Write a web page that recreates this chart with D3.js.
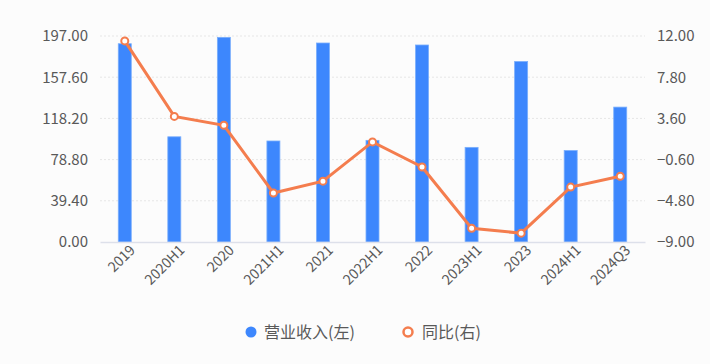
<!DOCTYPE html>
<html lang="zh">
<head>
<meta charset="UTF-8">
<script src="https://d3js.org/d3.v7.min.js"></script>
<style>
  body { margin: 0; background: #fcfcfc; font-family: "Noto Sans CJK SC", "Noto Sans", sans-serif; }
  svg { display: block; }
</style>
</head>
<body>
<div id="chart"></div>
<script>
// data
const periods = ["2019", "2020H1", "2020", "2021H1", "2021", "2022H1", "2022", "2023H1", "2023", "2024H1", "2024Q3"];
const revenue = [189.6, 100.6, 195.7, 96.6, 190.3, 97.2, 188.4, 90.5, 172.6, 87.5, 129.0];
const yoy = [11.5, 3.8, 2.9, -4.0, -2.8, 1.2, -1.35, -7.6, -8.1, -3.4, -2.3];
const leftTicks = [0, 39.4, 78.8, 118.2, 157.6, 197];
const rightTicks = [-9, -4.8, -0.6, 3.6, 7.8, 12];

const width = 710, height = 364;
const margin = { top: 36, right: 65, bottom: 122, left: 100 };

const svg = d3.select("#chart").append("svg")
    .attr("width", width)
    .attr("height", height);

svg.append("rect").attr("width", width).attr("height", height).attr("fill", "#fcfcfc");

const x = d3.scaleBand()
    .domain(periods)
    .range([margin.left, width - margin.right]);

const yL = d3.scaleLinear().domain([0, 197]).range([height - margin.bottom, margin.top]);
const yR = d3.scaleLinear().domain([-9, 12]).range([height - margin.bottom, margin.top]);

// grid lines
svg.append("g")
    .selectAll("line")
    .data(leftTicks.slice(1))
    .join("line")
    .attr("x1", margin.left)
    .attr("x2", width - margin.right)
    .attr("y1", d => yL(d))
    .attr("y2", d => yL(d))
    .attr("stroke", "#e6e6e6")
    .attr("stroke-dasharray", "2,2");

// left axis
const leftAxis = svg.append("g")
    .attr("transform", `translate(${margin.left},0)`)
    .call(d3.axisLeft(yL).tickValues(leftTicks).tickFormat(d3.format(".2f")).tickSize(0).tickPadding(12));
leftAxis.select(".domain").remove();
leftAxis.selectAll("text").attr("font-size", 15).attr("fill", "#595959").attr("font-family", "Noto Sans CJK SC");

// right axis
const rightAxis = svg.append("g")
    .attr("transform", `translate(${width - margin.right},0)`)
    .call(d3.axisRight(yR).tickValues(rightTicks).tickFormat(d3.format(".2f")).tickSize(0).tickPadding(12));
rightAxis.select(".domain").remove();
rightAxis.selectAll("text").attr("font-size", 15).attr("fill", "#595959").attr("font-family", "Noto Sans CJK SC");

// bars
const barW = 13;
svg.append("g")
    .selectAll("rect")
    .data(revenue)
    .join("rect")
    .attr("x", (d, i) => x(periods[i]) + x.bandwidth() / 2 - barW / 2)
    .attr("y", d => yL(d))
    .attr("width", barW)
    .attr("height", d => yL(0) - yL(d))
    .attr("fill", "#3d87fd")
    .attr("stroke", "#7aaefc")
    .attr("stroke-width", 0.8);

// x axis
const xAxis = svg.append("g")
    .attr("transform", `translate(0,${height - margin.bottom})`)
    .call(d3.axisBottom(x).tickSize(0).tickPadding(8));
xAxis.select(".domain").attr("stroke", "#dde0ea").attr("stroke-width", 1.5);
xAxis.selectAll("text")
    .attr("font-size", 14)
    .attr("fill", "#595959")
    .attr("font-family", "Noto Sans CJK SC")
    .attr("text-anchor", "end")
    .attr("dx", "0.1em")
    .attr("dy", "0.45em")
    .attr("transform", "rotate(-45)");

// yoy line
const line = d3.line()
    .x((d, i) => x(periods[i]) + x.bandwidth() / 2)
    .y(d => yR(d));

svg.append("path")
    .datum(yoy)
    .attr("fill", "none")
    .attr("stroke", "#f47d4e")
    .attr("stroke-width", 3)
    .attr("d", line);

svg.append("g")
    .selectAll("circle")
    .data(yoy)
    .join("circle")
    .attr("cx", (d, i) => x(periods[i]) + x.bandwidth() / 2)
    .attr("cy", d => yR(d))
    .attr("r", 3.5)
    .attr("fill", "#fff")
    .attr("stroke", "#f47d4e")
    .attr("stroke-width", 2);

// legend
const legend = svg.append("g").attr("font-family", "Noto Sans CJK SC").attr("font-size", 16).attr("fill", "#595959");
legend.append("circle").attr("cx", 251).attr("cy", 332).attr("r", 5.5).attr("fill", "#3d87fd");
legend.append("text").attr("x", 264).attr("y", 332).attr("dy", "0.35em").text("营业收入(左)");
legend.append("circle").attr("cx", 408).attr("cy", 332).attr("r", 4.5).attr("fill", "#fff").attr("stroke", "#f47d4e").attr("stroke-width", 2.5);
legend.append("text").attr("x", 422).attr("y", 332).attr("dy", "0.35em").text("同比(右)");
</script>
</body>
</html>
